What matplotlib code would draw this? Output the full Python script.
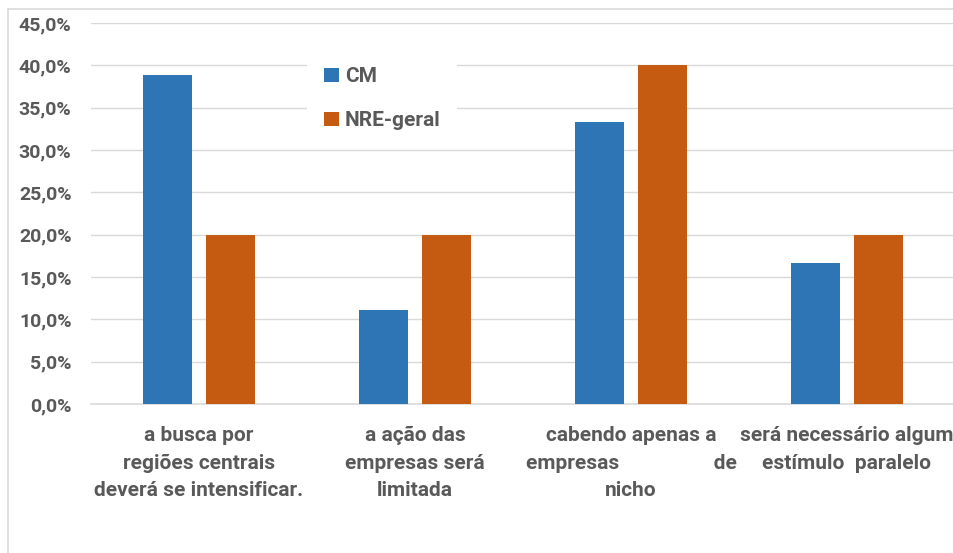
import matplotlib
matplotlib.use("Agg")
import matplotlib.pyplot as plt
import numpy as np
from matplotlib.lines import Line2D

categories = [
    "a busca por\nregiões centrais\ndeverá se intensificar.",
    "a ação das\nempresas será\nlimitada",
    "cabendo apenas a\nempresas                  de\nnicho",
    "será necessário algum\nestímulo  paralelo",
]
series_names = ["CM", "NRE-geral"]
cm_values = [0.389, 0.111, 0.333, 0.167]
nre_values = [0.200, 0.200, 0.400, 0.200]
y_ticks = [0.0, 0.05, 0.10, 0.15, 0.20, 0.25, 0.30, 0.35, 0.40, 0.45]
y_tick_labels = ["0,0%", "5,0%", "10,0%", "15,0%", "20,0%", "25,0%", "30,0%", "35,0%", "40,0%", "45,0%"]

BLUE = "#2E75B6"
ORANGE = "#C55A11"
TEXT = "#595959"
GRID = "#D9D9D9"

plt.rcParams['font.family'] = ['Roboto', 'DejaVu Sans']
plt.rcParams['font.weight'] = 'bold'

W, H = 954, 553
fig = plt.figure(figsize=(W / 100, H / 100), dpi=100)
ax = fig.add_axes([91 / W, (H - 404) / H, 864 / W, (404 - 23) / H])

x = np.arange(len(categories))
bw = 0.227
off = 0.146
ax.bar(x - off, cm_values, bw, color=BLUE, label=series_names[0], zorder=3)
ax.bar(x + off, nre_values, bw, color=ORANGE, label=series_names[1], zorder=3)

ax.set_xlim(-0.5, len(categories) - 0.5)
ax.set_ylim(0, 0.45)
ax.set_yticks(y_ticks)
ax.set_yticklabels(y_tick_labels)
ax.set_xticks(x)
ax.set_xticklabels(categories, linespacing=1.56)
ax.tick_params(axis='y', length=0, pad=14, labelsize=14, labelcolor=TEXT)
ax.tick_params(axis='x', length=0, pad=16, labelsize=15, labelcolor=TEXT)
for lab in ax.get_xticklabels() + ax.get_yticklabels():
    lab.set_fontweight('bold')

ax.grid(axis='y', color=GRID, linewidth=1.0, zorder=0)
ax.set_axisbelow(True)
for s in ['top', 'right', 'left']:
    ax.spines[s].set_visible(False)
ax.spines['bottom'].set_color(GRID)
ax.spines['bottom'].set_linewidth(1.2)

leg = ax.legend(loc='upper left', bbox_to_anchor=((297 - 91) / 864, (404 - 40) / 381),
                frameon=True, fancybox=False, edgecolor='none', facecolor='white', framealpha=1,
                prop={'size': 15, 'weight': 'bold'}, labelcolor=TEXT, handlelength=0.7, handleheight=0.7,
                labelspacing=1.2, handletextpad=0.3, borderpad=0.8)

# chart border
fig.add_artist(Line2D([8 / W, 8 / W], [0, 1 - 9 / H], color=GRID, linewidth=1.2, transform=fig.transFigure))
fig.add_artist(Line2D([8 / W, 1], [1 - 9 / H, 1 - 9 / H], color=GRID, linewidth=1.2, transform=fig.transFigure))

fig.savefig("out.png", dpi=100)
